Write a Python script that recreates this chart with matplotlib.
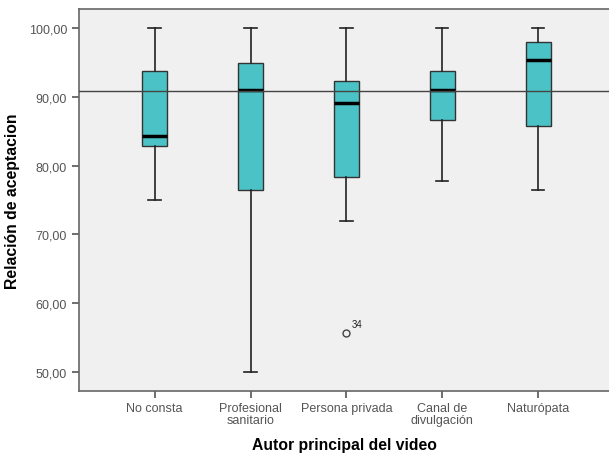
import numpy as np
import matplotlib

matplotlib.use("Agg")
import matplotlib.pyplot as plt

plt.rcParams["font.family"] = ["Liberation Sans", "DejaVu Sans"]

# ── data ────────────────────────────────────────────────────────────────────
categories = ["No consta", "Profesional\nsanitario", "Persona privada",
              "Canal de\ndivulgación", "Naturópata"]
whisker_low = [75.0, 50.0, 71.9, 77.8, 76.5]
q1 = [82.85, 76.4, 78.3, 86.6, 85.75]
median = [84.3, 91.0, 89.1, 91.0, 95.35]
q3 = [93.75, 94.9, 92.3, 93.75, 98.0]
whisker_high = [100.0, 100.0, 100.0, 100.0, 100.0]
outliers = [[], [], [55.7], [], []]
outlier_ids = [[], [], ["34"], [], []]
ref_line = 90.9
yticks = [50, 60, 70, 80, 90, 100]

stats = []
for i, cat in enumerate(categories):
    stats.append({
        "label": cat,
        "whislo": whisker_low[i],
        "q1": q1[i],
        "med": median[i],
        "q3": q3[i],
        "whishi": whisker_high[i],
        "fliers": outliers[i],
    })

fig = plt.figure(figsize=(6.09, 4.56), dpi=100)
ax = fig.add_axes([0.1297, 0.1404, 0.8703, 0.8377])
ax.set_facecolor("#F0F0F0")

pos = np.arange(len(categories))
ax.bxp(
    stats,
    positions=pos,
    widths=0.26,
    patch_artist=True,
    boxprops=dict(facecolor="#4BC3C6", edgecolor="#333333", linewidth=1.0),
    medianprops=dict(color="black", linewidth=2.5),
    whiskerprops=dict(color="#222222", linewidth=1.2),
    capprops=dict(color="#222222", linewidth=1.2),
    capwidths=0.13,
    flierprops=dict(marker="o", markerfacecolor="none", markeredgecolor="#444444",
                    markersize=5, markeredgewidth=1.0),
    zorder=3,
)

for i, (vals, ids) in enumerate(zip(outliers, outlier_ids)):
    for v, t in zip(vals, ids):
        ax.annotate(t, (pos[i], v), xytext=(4, 4), textcoords="offset points",
                    fontsize=7, color="#222222")

ax.axhline(ref_line, color="#444444", linewidth=1.0, zorder=4)

ax.set_xlim(-0.79, 4.74)
ax.set_ylim(47.2, 102.8)
ax.set_yticks(yticks)
ax.set_yticklabels([f"{v:.2f}".replace(".", ",") for v in yticks])
ax.set_xticks(pos)
ax.set_xticklabels(categories, linespacing=1.0)
ax.tick_params(axis="both", labelsize=9, colors="#555555", length=5, width=1.2)
ax.tick_params(axis="x", pad=3)

for side in ["left", "bottom", "top"]:
    ax.spines[side].set_color("#666666")
    ax.spines[side].set_linewidth(1.2)
ax.spines["right"].set_visible(False)

ax.set_ylabel("Relación de aceptacion", fontsize=11.3, fontweight="bold", labelpad=6)
ax.set_xlabel("Autor principal del video", fontsize=11.3, fontweight="bold", labelpad=8)

fig.savefig("out.png", dpi=100)
